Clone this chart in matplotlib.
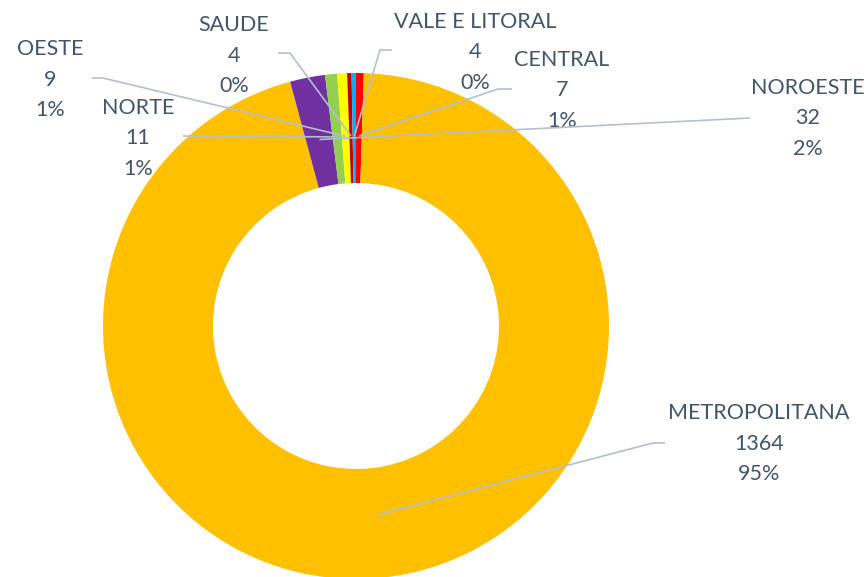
import numpy as np
import matplotlib
matplotlib.use('Agg')
import matplotlib.pyplot as plt

# dados (ordem da planilha, sentido horário a partir do topo)
regioes = ['CENTRAL', 'METROPOLITANA', 'NOROESTE', 'NORTE', 'OESTE', 'SAUDE', 'VALE E LITORAL']
valores = [7, 1364, 32, 11, 9, 4, 4]
cores = ['#FF0000', '#FFC000', '#7030A0', '#92D050', '#FFFF00', '#C00000', '#00B0F0']

# posição dos rótulos (px, y para baixo) e o ponto onde a linha guia começa/dobra
pos_rotulo = {
    'CENTRAL': (562, 60),
    'METROPOLITANA': (759, 413),
    'NOROESTE': (808, 88),
    'NORTE': (138, 108),
    'OESTE': (50, 49),
    'SAUDE': (234, 25),
    'VALE E LITORAL': (475, 22),
}
guia = {
    'CENTRAL': [(512, 89), (498, 89)],
    'METROPOLITANA': [(665, 443), (653, 443)],
    'NOROESTE': [(750, 118)],
    'NORTE': [(183, 136)],
    'OESTE': [(92, 78), (103, 78)],
    'SAUDE': [(278, 53), (290, 53)],
    'VALE E LITORAL': [(392, 50), (380, 50)],
}

W, H = 866, 577
cor_texto = '#44546A'
cor_guia = '#B5BFCB'


# percentuais arredondados que somam 100 (como o Excel faz)
def percentuais(vals):
    p = np.array(vals) / sum(vals) * 100
    base = np.floor(p).astype(int)
    falta = 100 - base.sum()
    ordem = np.argsort(-(p - base))
    base[ordem[:falta]] += 1
    return base


pct = percentuais(valores)

fig = plt.figure(figsize=(W / 100, H / 100), dpi=100)
ax = fig.add_axes([0, 0, 1, 1])

cx, cy = 356, H - 326
R = 253
largura = 110
ax.pie(valores, colors=cores, startangle=90, counterclock=False,
       radius=R, center=(cx, cy),
       wedgeprops=dict(width=largura, linewidth=0))
ax.set_xlim(0, W)
ax.set_ylim(0, H)
ax.set_aspect('equal')
ax.axis('off')

total = sum(valores)
acum = 0
for nome, v, p in zip(regioes, valores, pct):
    ang = np.deg2rad(90 - (acum + v / 2) / total * 360)
    acum += v
    r = 190
    fim = (cx + r * np.cos(ang), cy + r * np.sin(ang))
    pts = [(x, H - y) for x, y in guia[nome]] + [fim]
    xs, ys = zip(*pts)
    ax.plot(xs, ys, color=cor_guia, lw=1.2, solid_capstyle='butt', zorder=3)

    x, y = pos_rotulo[nome]
    for i, linha in enumerate([nome, str(v), f'{p}%']):
        ax.text(x, H - (y + i * 30.5), linha, ha='center', va='center',
                fontsize=15.5, family=['Lato', 'DejaVu Sans'], color=cor_texto)

fig.savefig('out.png', dpi=100)
